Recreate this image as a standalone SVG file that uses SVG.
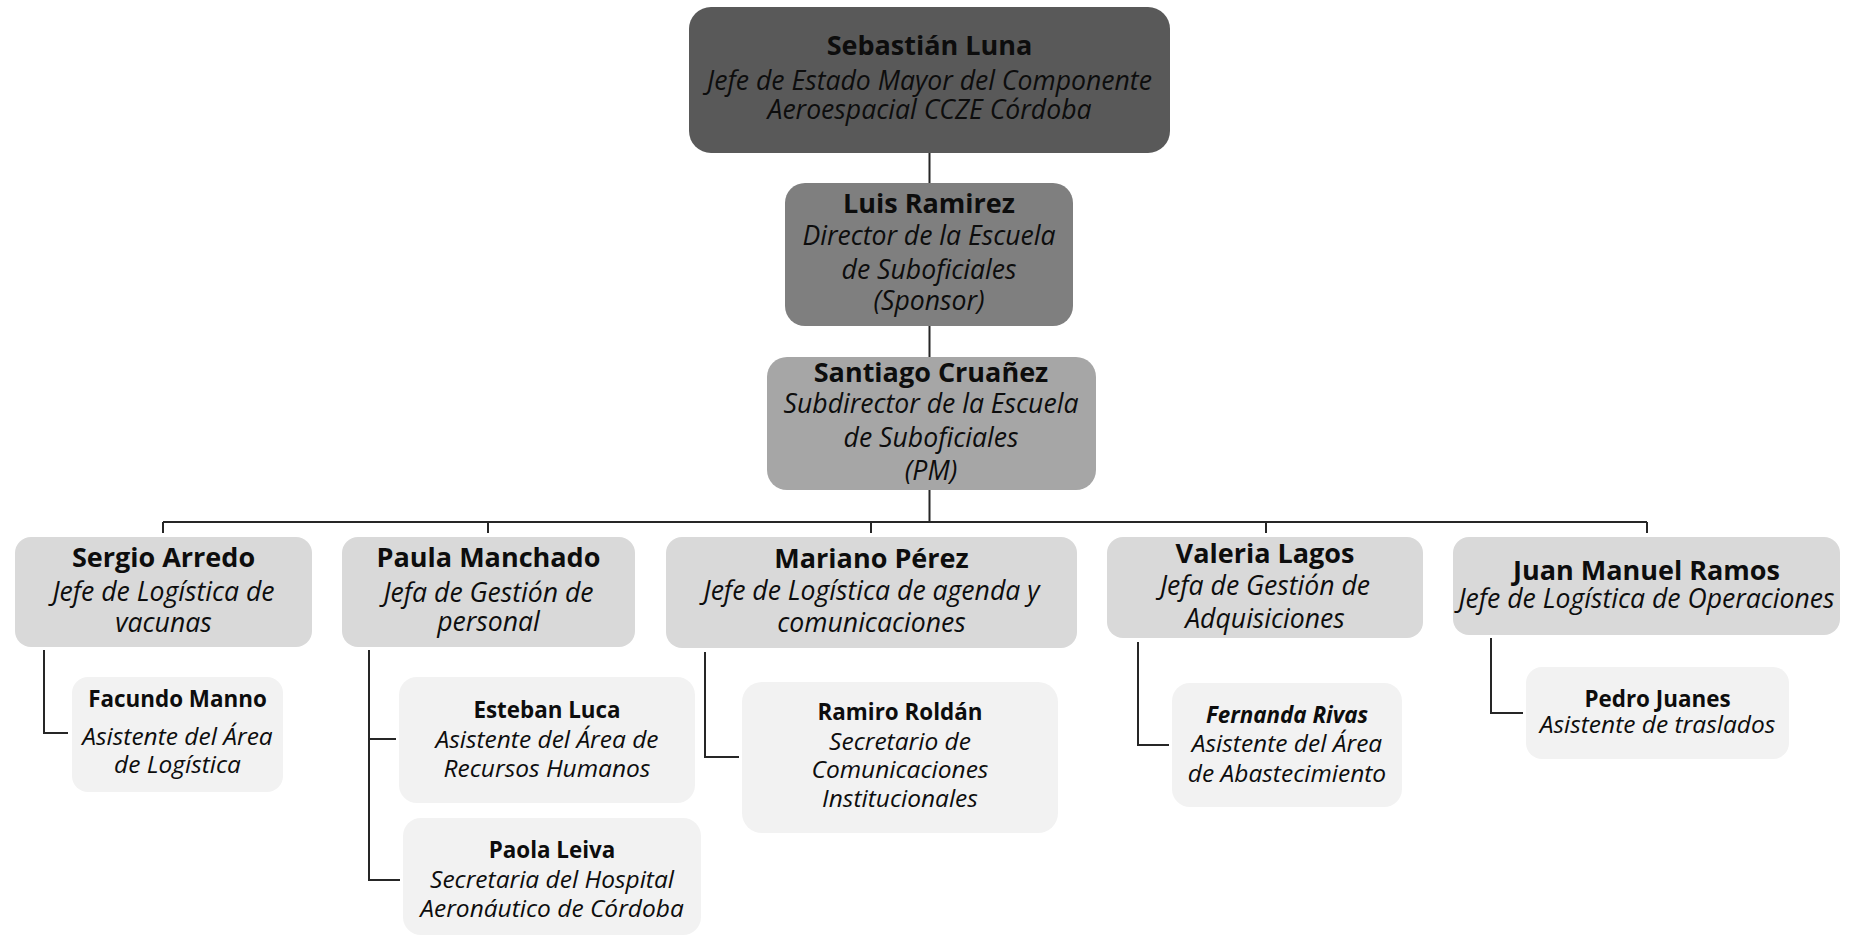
<svg xmlns="http://www.w3.org/2000/svg" width="1850" height="936" viewBox="0 0 1850 936">
<style>
text{font-family:"Open Sans","Noto Sans","DejaVu Sans",sans-serif;fill:#0d0d0d;text-anchor:middle}
.n1{font-size:27px;font-weight:bold}
.r1{font-size:26.6px;font-style:italic}
.n3{font-size:22.4px;font-weight:bold}
.r3{font-size:24.5px;font-style:italic}
.c{fill:none;stroke:#262626;stroke-width:2}
</style>
<rect width="1850" height="936" fill="#ffffff"/>
<g id="connectors">
<path class="c" d="M929.5 153V183M929.5 326V357M929.5 490V522M163 522H1647M163 522V533M488 522V533M871 522V533M1266 522V533M1647 522V533"/>
<path class="c" d="M44 650V733H68M369 650V880H400M369 739H396M705 652V757H739M1138 642V745H1169M1491 638V713H1523"/>
</g>
<g id="sebastian">
<rect x="689" y="7" width="481" height="146" rx="22" fill="#595959"/>
<text x="929.5" y="55" class="n1">Sebastián Luna</text>
<text x="929.5" y="90" class="r1">Jefe de Estado Mayor del Componente</text>
<text x="929.5" y="119" class="r1">Aeroespacial CCZE Córdoba</text>
</g>
<g id="luis">
<rect x="785" y="183" width="288" height="143" rx="20" fill="#7f7f7f"/>
<text x="929" y="213" class="n1">Luis Ramirez</text>
<text x="929" y="245" class="r1">Director de la Escuela</text>
<text x="929" y="279" class="r1">de Suboficiales</text>
<text x="929" y="310" class="r1">(Sponsor)</text>
</g>
<g id="santiago">
<rect x="767" y="357" width="329" height="133" rx="20" fill="#a6a6a6"/>
<text x="931" y="382" class="n1">Santiago Cruañez</text>
<text x="931" y="413" class="r1">Subdirector de la Escuela</text>
<text x="931" y="447" class="r1">de Suboficiales</text>
<text x="931" y="480" class="r1">(PM)</text>
</g>
<g id="sergio">
<rect x="15" y="537" width="297" height="110" rx="16" fill="#d9d9d9"/>
<text x="163.5" y="567" class="n1">Sergio Arredo</text>
<text x="163.5" y="601" class="r1">Jefe de Logística de</text>
<text x="163.5" y="632" class="r1">vacunas</text>
</g>
<g id="paula">
<rect x="342" y="537" width="293" height="110" rx="16" fill="#d9d9d9"/>
<text x="488.5" y="567" class="n1">Paula Manchado</text>
<text x="488.5" y="602" class="r1">Jefa de Gestión de</text>
<text x="488.5" y="631" class="r1">personal</text>
</g>
<g id="mariano">
<rect x="666" y="537" width="411" height="111" rx="16" fill="#d9d9d9"/>
<text x="871.5" y="568" class="n1">Mariano Pérez</text>
<text x="871.5" y="600" class="r1">Jefe de Logística de agenda y</text>
<text x="871.5" y="632" class="r1">comunicaciones</text>
</g>
<g id="valeria">
<rect x="1107" y="537" width="316" height="101" rx="16" fill="#d9d9d9"/>
<text x="1265" y="563" class="n1">Valeria Lagos</text>
<text x="1265" y="595" class="r1">Jefa de Gestión de</text>
<text x="1265" y="628" class="r1">Adquisiciones</text>
</g>
<g id="juan">
<rect x="1453" y="537" width="387" height="98" rx="16" fill="#d9d9d9"/>
<text x="1646.5" y="580" class="n1">Juan Manuel Ramos</text>
<text x="1646.5" y="608" class="r1">Jefe de Logística de Operaciones</text>
</g>
<g id="facundo">
<rect x="72" y="677" width="211" height="115" rx="16" fill="#f2f2f2"/>
<text x="177.5" y="707" class="n3">Facundo Manno</text>
<text x="177.5" y="745" class="r3">Asistente del Área</text>
<text x="177.5" y="773" class="r3">de Logística</text>
</g>
<g id="esteban">
<rect x="399" y="677" width="296" height="126" rx="18" fill="#f2f2f2"/>
<text x="547" y="718" class="n3">Esteban Luca</text>
<text x="547" y="748" class="r3">Asistente del Área de</text>
<text x="547" y="777" class="r3">Recursos Humanos</text>
</g>
<g id="paola">
<rect x="403" y="818" width="298" height="117" rx="18" fill="#f2f2f2"/>
<text x="552" y="858" class="n3">Paola Leiva</text>
<text x="552" y="888" class="r3">Secretaria del Hospital</text>
<text x="552" y="917" class="r3">Aeronáutico de Córdoba</text>
</g>
<g id="ramiro">
<rect x="742" y="682" width="316" height="151" rx="20" fill="#f2f2f2"/>
<text x="900" y="720" class="n3">Ramiro Roldán</text>
<text x="900" y="750" class="r3">Secretario de</text>
<text x="900" y="778" class="r3">Comunicaciones</text>
<text x="900" y="807" class="r3">Institucionales</text>
</g>
<g id="fernanda">
<rect x="1172" y="683" width="230" height="124" rx="18" fill="#f2f2f2"/>
<text x="1287" y="723" class="n3" style="font-style:italic">Fernanda Rivas</text>
<text x="1287" y="752" class="r3">Asistente del Área</text>
<text x="1287" y="782" class="r3">de Abastecimiento</text>
</g>
<g id="pedro">
<rect x="1526" y="667" width="263" height="92" rx="16" fill="#f2f2f2"/>
<text x="1657.5" y="707" class="n3">Pedro Juanes</text>
<text x="1657.5" y="733" class="r3">Asistente de traslados</text>
</g>
</svg>
